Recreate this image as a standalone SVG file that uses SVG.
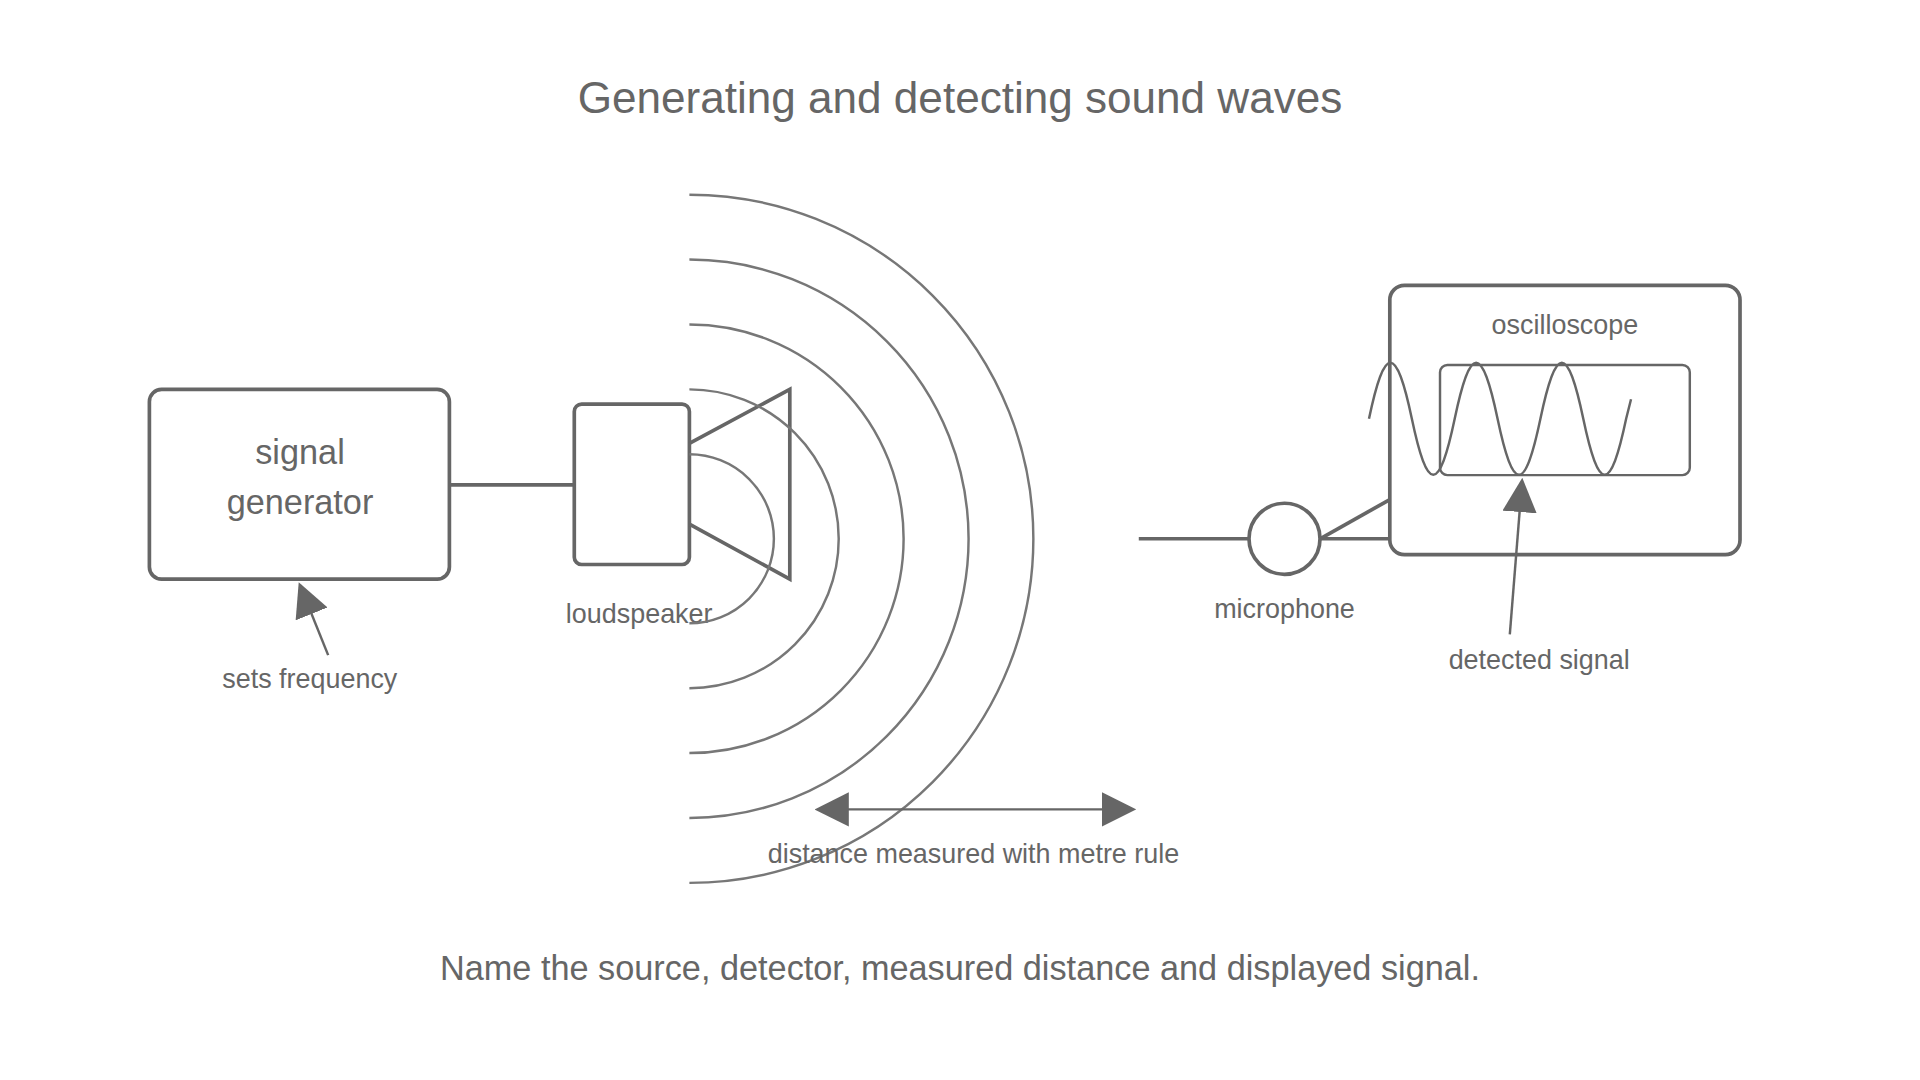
<svg xmlns="http://www.w3.org/2000/svg" width="1920" height="1080" viewBox="0 0 1920 1080">
<style>
text{font-family:"Liberation Sans",Arial,sans-serif;fill:#666;text-anchor:middle}
.box{fill:none;stroke:#666;stroke-width:3}
.ln{fill:none;stroke:#666;stroke-width:3}
.arc{fill:none;stroke:#777;stroke-width:2}
.ar{fill:none;stroke:#666;stroke-width:2}
</style>
<defs>
<marker id="ah" markerWidth="10" markerHeight="10" refX="8" refY="5" orient="auto-start-reverse" markerUnits="userSpaceOnUse" viewBox="0 0 10 10">
<path d="M0,0 L10,5 L0,10 Z" fill="#666"/>
</marker>
<marker id="big" viewBox="0 0 10 10" refX="9" refY="5" markerWidth="28" markerHeight="28" orient="auto-start-reverse" markerUnits="userSpaceOnUse">
<path d="M0,0 L10,5 L0,10 Z" fill="#666"/>
</marker>
</defs>
<rect width="1920" height="1080" fill="#fff"/>
<g transform="scale(1.2245)">
<text x="784" y="92" font-size="36">Generating and detecting sound waves</text>
<g id="signal-generator">
<rect class="box" x="122" y="318" width="245" height="155" rx="10"/>
<text x="245" y="379" font-size="28">signal</text>
<text x="245" y="420" font-size="28">generator</text>
</g>
<g id="loudspeaker">
<rect class="box" x="469" y="330" width="94" height="131" rx="6"/>
<path class="box" d="M563,362 L645,318 L645,473 L563,428"/>
<text x="522" y="509" font-size="22">loudspeaker</text>
</g>
<g id="waves">
<path class="arc" d="M563,371 A69,69 0 0 1 563,509"/>
<path class="arc" d="M563,318 A122,122 0 0 1 563,562"/>
<path class="arc" d="M563,265 A175,175 0 0 1 563,615"/>
<path class="arc" d="M563,212 A228,228 0 0 1 563,668"/>
<path class="arc" d="M563,159 A281,281 0 0 1 563,721"/>
</g>
<g id="microphone">
<circle class="box" cx="1049" cy="440" r="29"/>
<text x="1049" y="505" font-size="22">microphone</text>
</g>
<g id="oscilloscope">
<rect class="box" x="1135" y="233" width="286" height="220" rx="12"/>
<rect class="ar" x="1176" y="298" width="204" height="90" rx="6"/>
<text x="1278" y="273" font-size="22">oscilloscope</text>
<path class="ar" d="M1118,342 C1130.8,281 1140.2,281 1153,342 C1165.8,403 1175.2,403 1188,342 C1200.8,281 1210.2,281 1223,342 C1235.8,403 1245.2,403 1258,342 C1270.8,281 1280.2,281 1293,342 C1305.8,403 1315.2,403 1328,342 L1332,326"/>
</g>
<g id="connectors">
<line class="ln" x1="367" y1="396" x2="469" y2="396"/>
<line class="ln" x1="930" y1="440" x2="1020" y2="440"/>
<line class="ln" x1="1078" y1="440" x2="1135" y2="440"/>
<line class="ln" x1="1078" y1="440" x2="1135" y2="408"/>
<line class="ar" x1="268" y1="535" x2="245" y2="478" marker-end="url(#big)"/>
<line class="ar" x1="1233" y1="518" x2="1243" y2="393" marker-end="url(#big)"/>
<line class="ar" x1="668" y1="661" x2="925" y2="661" marker-start="url(#big)" marker-end="url(#big)"/>
</g>
<text x="253" y="562" font-size="22">sets frequency</text>
<text x="1257" y="546" font-size="22">detected signal</text>
<text x="795" y="705" font-size="22">distance measured with metre rule</text>
<text x="784" y="800" font-size="28">Name the source, detector, measured distance and displayed signal.</text>
</g>
</svg>
